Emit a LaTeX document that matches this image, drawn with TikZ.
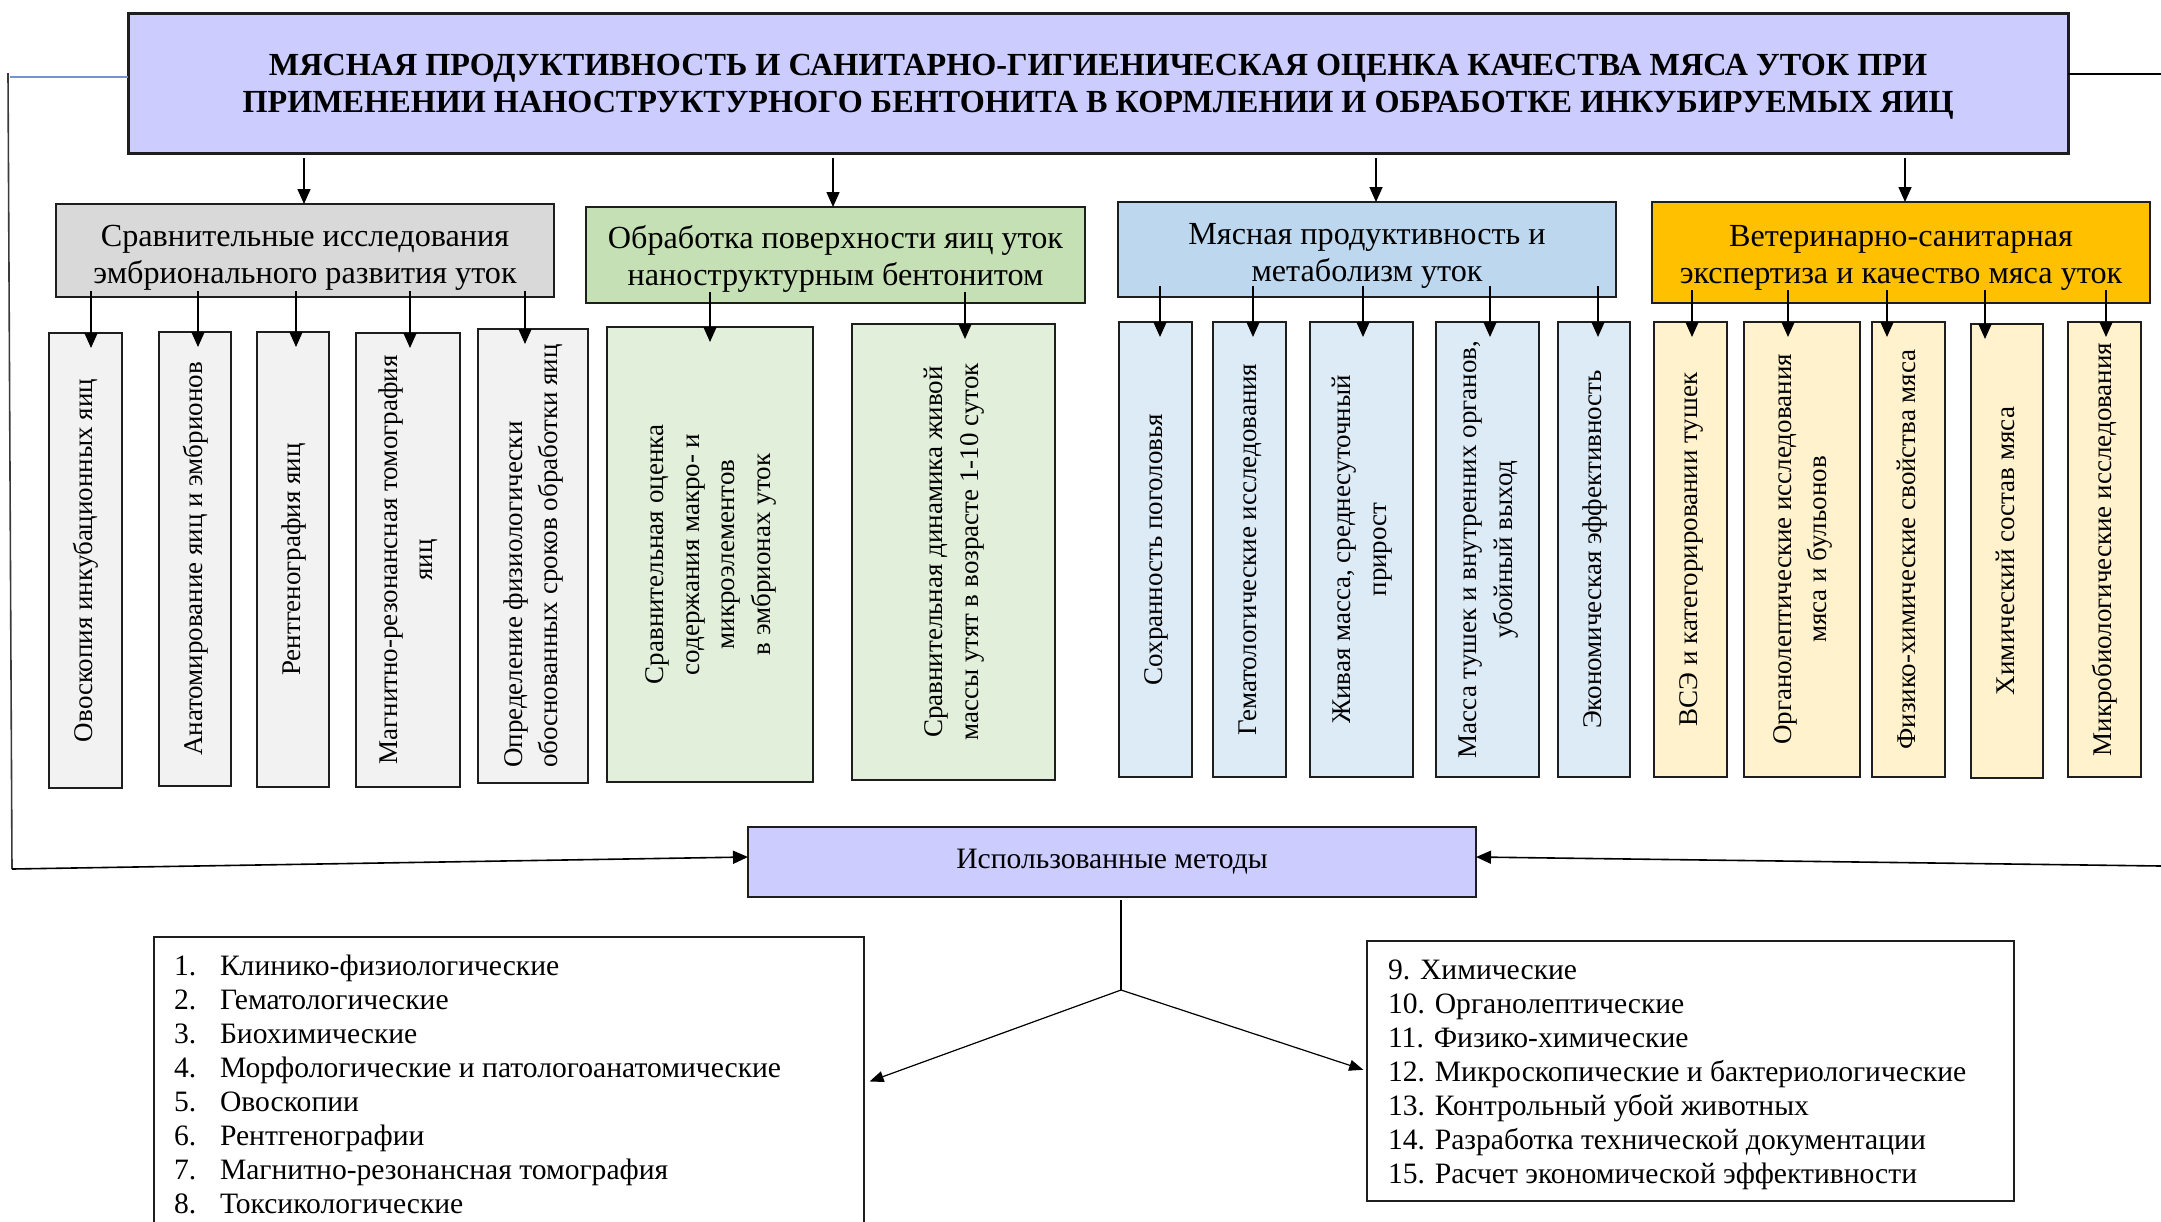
\documentclass[tikz,border=0pt]{standalone}
\usepackage{fontspec}
\setmainfont{Liberation Serif}
\usepackage{graphicx}
\usetikzlibrary{arrows.meta,calc}

\definecolor{titlefill}{HTML}{CCCCFF}
\definecolor{grayA}{HTML}{D9D9D9}
\definecolor{grayAc}{HTML}{F2F2F2}
\definecolor{greenB}{HTML}{C5E0B4}
\definecolor{greenBc}{HTML}{E2EFDA}
\definecolor{blueC}{HTML}{BDD7EE}
\definecolor{blueCc}{HTML}{DDEBF7}
\definecolor{orangeD}{HTML}{FFC000}
\definecolor{orangeDc}{HTML}{FFF2CC}
\definecolor{edge}{HTML}{1E1E1E}
\definecolor{sideline}{HTML}{3A3A3A}
\definecolor{blueline}{HTML}{7393D1}

% box from corners (px): name, x1, y1, x2, y2, style, text
\newcommand\bx[7]{\node[#6, minimum width={(#4-#2)*0.5pt}, minimum height={(#5-#3)*0.5pt}] (#1) at ({(#2+#4)/2},{(#3+#5)/2}) {#7};}
% text placed in a box, shifted down: box name, shift, style, text
\newcommand\bxtext[4]{\node[#3] (#1t) at ([yshift=-#2]#1.center) {#4};}
\newcommand\vt[2][c]{\rotatebox{90}{\begin{tabular}{@{}#1@{}}#2\end{tabular}}}

\tikzset{
  box/.style={draw=edge, line width=1.35pt, rectangle, inner sep=0pt, outer sep=0pt, align=center},
  titlebox/.style={box, line width=1.5pt, fill=titlefill},
  titletext/.style={inner sep=0pt, align=center, font=\bfseries\fontsize{16.1}{18.5}\selectfont},
  lvtwotext/.style={inner sep=0pt, align=center, font=\fontsize{16.1}{18.5}\selectfont},
  lvthree/.style={box, font=\fontsize{13.5}{17.8}\selectfont},
  listbox/.style={draw=edge, line width=0.75pt, rectangle, inner sep=0pt, outer sep=0pt},
  listtext/.style={inner sep=0pt, outer sep=0pt, anchor=base west, font=\fontsize{14.8}{17}\selectfont},
  arrowline/.style={draw=black, line width=0.75pt, -{Triangle[length=7.5pt,width=6.5pt]}},
  thinline/.style={draw=black, line width=0.6pt},
}

\begin{document}
\begin{tikzpicture}[x=0.5pt, y=-0.5pt]
\clip (0,0) rectangle (2161,1221);
\fill[white] (0,0) rectangle (2161,1221);

% title
\bx{T}{128}{13}{2068}{153}{titlebox}{}
\bxtext{T}{2pt}{titletext}{МЯСНАЯ ПРОДУКТИВНОСТЬ И САНИТАРНО-ГИГИЕНИЧЕСКАЯ ОЦЕНКА КАЧЕСТВА МЯСА УТОК ПРИ\\ПРИМЕНЕНИИ НАНОСТРУКТУРНОГО БЕНТОНИТА В КОРМЛЕНИИ И ОБРАБОТКЕ ИНКУБИРУЕМЫХ ЯИЦ}

% level 2
\bx{A}{56}{204}{554}{297}{box, fill=grayA}{}
\bxtext{A}{3.5pt}{lvtwotext}{Сравнительные исследования\\эмбрионального развития уток}
\bx{B}{586}{207}{1085}{303}{box, fill=greenB}{}
\bxtext{B}{2pt}{lvtwotext}{Обработка поверхности яиц уток\\наноструктурным бентонитом}
\bx{C}{1118}{202}{1616}{297}{box, fill=blueC}{}
\bxtext{C}{3pt}{lvtwotext}{Мясная продуктивность и\\метаболизм уток}
\bx{D}{1652}{202}{2150}{303}{box, fill=orangeD}{}
\bxtext{D}{2.75pt}{lvtwotext}{Ветеринарно-санитарная\\экспертиза и качество мяса уток}

% level 3
\bx{A1}{49}{333}{122}{788}{lvthree, fill=grayAc}{\vt{Овоскопия инкубационных яиц}}
\bx{A2}{159}{332}{231}{786}{lvthree, fill=grayAc}{\vt{Анатомирование яиц и эмбрионов}}
\bx{A3}{257}{332}{329}{787}{lvthree, fill=grayAc}{\vt{Рентгенография яиц}}
\bx{A4}{356}{333}{460}{787}{lvthree, fill=grayAc}{\vt{Магнитно-резонансная томография\\яиц}}
\bx{A5}{478}{329}{588}{783}{lvthree, fill=grayAc}{\vt[l]{Определение физиологически\\обоснованных сроков обработки яиц}}
\bx{B1}{607}{327}{813}{782}{lvthree, fill=greenBc}{\vt{Сравнительная оценка\\содержания макро- и\\микроэлементов\\в эмбрионах уток}}
\bx{B2}{852}{324}{1055}{780}{lvthree, fill=greenBc}{\vt{Сравнительная динамика живой\\массы утят в возрасте 1-10 суток}}
\bx{C1}{1119}{322}{1192}{777}{lvthree, fill=blueCc}{\vt{Сохранность поголовья}}
\bx{C2}{1213}{322}{1286}{777}{lvthree, fill=blueCc}{\vt{Гематологические исследования}}
\bx{C3}{1310}{322}{1413}{777}{lvthree, fill=blueCc}{\vt{Живая масса, среднесуточный\\прирост}}
\bx{C4}{1436}{322}{1539}{777}{lvthree, fill=blueCc}{\vt{Масса тушек и внутренних органов,\\убойный выход}}
\bx{C5}{1558}{322}{1630}{777}{lvthree, fill=blueCc}{\vt{Экономическая эффективность}}
\bx{D1}{1654}{322}{1727}{777}{lvthree, fill=orangeDc}{\vt{ВСЭ и категорировании тушек}}
\bx{D2}{1744}{322}{1860}{777}{lvthree, fill=orangeDc}{\vt{Органолептические исследования\\мяса и бульонов}}
\bx{D3}{1872}{322}{1945}{777}{lvthree, fill=orangeDc}{\vt{Физико-химические свойства мяса}}
\bx{D4}{1971}{324}{2043}{778}{lvthree, fill=orangeDc}{\vt{Химический состав мяса}}
\bx{D5}{2068}{322}{2141}{777}{lvthree, fill=orangeDc}{\vt{Микробиологические исследования}}

% methods box
\bx{M}{748}{827}{1476}{897}{box, fill=titlefill, font=\fontsize{14.8}{17}\selectfont}{Использованные методы}

% list boxes
\bx{L}{154}{937}{864}{1260}{listbox}{}
\bx{R}{1367}{941}{2014}{1201}{listbox}{}
\node[listtext] (Ltxt) at (174,975) {\begin{tabular}[t]{@{}l@{}}
\makebox[23pt][l]{1.}Клинико-физиологические\\
\makebox[23pt][l]{2.}Гематологические\\
\makebox[23pt][l]{3.}Биохимические\\
\makebox[23pt][l]{4.}Морфологические и патологоанатомические\\
\makebox[23pt][l]{5.}Овоскопии\\
\makebox[23pt][l]{6.}Рентгенографии\\
\makebox[23pt][l]{7.}Магнитно-резонансная томография\\
\makebox[23pt][l]{8.}Токсикологические
\end{tabular}};
\node[listtext] (Rtxt) at (1388,979) {\begin{tabular}[t]{@{}l@{}}
9. Химические\\
10. Органолептические\\
11. Физико-химические\\
12. Микроскопические и бактериологические\\
13. Контрольный убой животных\\
14. Разработка технической документации\\
15. Расчет экономической эффективности
\end{tabular}};

% title -> level 2
\foreach \n/\xx in {A/304,B/833,C/1376,D/1905}{
  \draw[arrowline, shorten <=2.5pt] (\xx,0 |- T.south) -- (\xx,0 |- \n.north);
}

% level 2 -> level 3
\foreach \n/\xx in {A1/91,A2/198,A3/296,A4/410,A5/525}{
  \draw[arrowline, shorten <=-3pt, shorten >=-7.5pt] (\xx,0 |- A.south) -- (\xx,0 |- \n.north);
}
\foreach \n/\xx in {B1/710,B2/965}{
  \draw[arrowline, shorten <=-5.5pt, shorten >=-7.5pt] (\xx,0 |- B.south) -- (\xx,0 |- \n.north);
}
\foreach \n/\xx in {C1/1160,C2/1253,C3/1363,C4/1490,C5/1598}{
  \draw[arrowline, shorten <=-5.5pt, shorten >=-7.5pt] (\xx,0 |- C.south) -- (\xx,0 |- \n.north);
}
\foreach \n/\xx in {D1/1692,D2/1788,D3/1887,D4/1985,D5/2106}{
  \draw[arrowline, shorten <=-6.5pt, shorten >=-7.5pt] (\xx,0 |- D.south) -- (\xx,0 |- \n.north);
}

% side lines
\coordinate (lefttop) at (8,73);
\coordinate (leftbot) at (12,869);
\coordinate (rightbot) at (2161,866);
\coordinate (rightend) at (2161,74);
\coordinate (blueend) at (10,77);
\draw[blueline, line width=0.75pt] (blueend) -- ([yshift=3pt]T.west);
\draw[black, line width=0.75pt] ([yshift=4.5pt]T.east) -- (rightend);
\draw[sideline, line width=0.8pt] (lefttop) -- (leftbot);
\draw[arrowline, line width=0.8pt] (leftbot) -- ([yshift=2.5pt]M.west);
\draw[arrowline, line width=0.8pt] (rightbot) -- ([yshift=2.5pt]M.east);

% fork
\coordinate (fork) at (1121,990);
\draw[thinline] ([yshift=-1.5pt]M.south -| fork) -- (fork);
\draw[thinline, -{Triangle[length=7pt,width=5.5pt]}, shorten >=3pt] (fork) -- ([yshift=7.5pt]L.east);
\draw[thinline, -{Triangle[length=7pt,width=5.5pt]}, shorten >=2pt] (fork) -- (R.west);
\end{tikzpicture}
\end{document}
